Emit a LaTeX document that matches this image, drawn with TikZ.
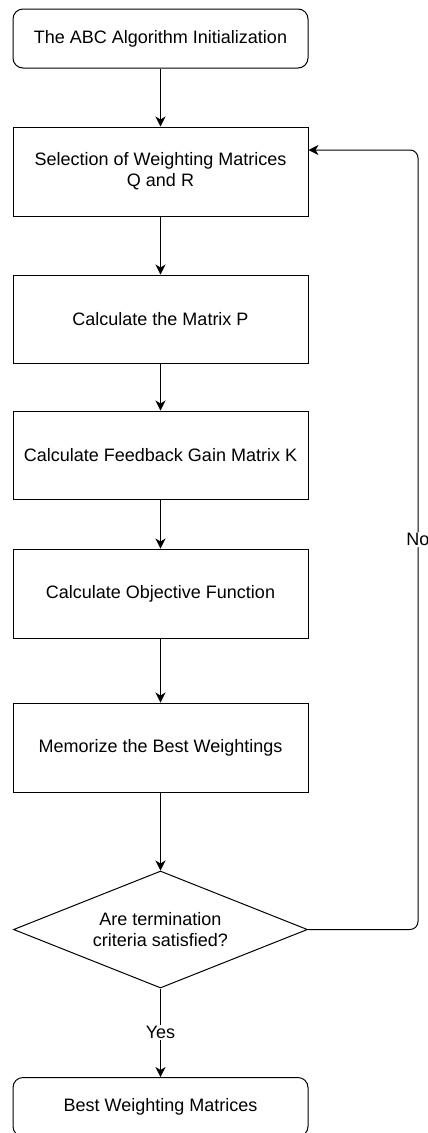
\documentclass[tikz,border=0pt]{standalone}
\usepackage{fontspec}
\setmainfont{Liberation Sans}
\usetikzlibrary{arrows.meta,shapes.geometric}

\tikzset{
    stepbox/.style={draw, line width=1pt, minimum width=295pt, minimum height=89pt, align=center, inner sep=2pt},
    startbox/.style={stepbox, rounded corners=10pt, minimum height=59pt},
    decision/.style={draw, line width=1pt, diamond, minimum width=294pt, minimum height=117pt, aspect=2.5, inner sep=0pt, align=center},
    flow/.style={line width=1pt, -{Stealth[length=10pt,width=10pt,inset=3pt]}},
    tag/.style={fill=white, inner sep=1pt}
}

\begin{document}
\begin{tikzpicture}[x=1pt, y=-1pt, font=\fontsize{18}{21}\selectfont]
    \useasboundingbox (0,0) rectangle (428,1133);

    \node[startbox] (init) at (160.5,38.5) {The ABC Algorithm Initialization};
    \node[stepbox] (sel) at (160.5,171.5) {Selection of Weighting Matrices\\Q and R};
    \node[stepbox, minimum height=88pt] (matp) at (160.5,319) {Calculate the Matrix P};
    \node[stepbox, minimum height=88pt] (gain) at (160.5,455) {Calculate Feedback Gain Matrix K};
    \node[stepbox] (obj) at (160.5,593.5) {Calculate Objective Function};
    \node[stepbox] (mem) at (160.5,747.5) {Memorize the Best Weightings};
    \node[decision] (dec) at (160.5,929.5) {Are termination\\criteria satisfied?};
    \node[startbox] (best) at (160.5,1107) {Best Weighting Matrices};

    \coordinate (fbtop) at (418,150);

    \draw[flow] (init) -- (sel);
    \draw[flow] (sel) -- (matp);
    \draw[flow] (matp) -- (gain);
    \draw[flow] (gain) -- (obj);
    \draw[flow] (obj) -- (mem);
    \draw[flow] (mem) -- (dec);
    \draw[flow] (dec) -- node[tag] {Yes} (best);
    \draw[flow, rounded corners=8pt] (dec.east) -- (dec.east -| fbtop)
        -- node[tag] {No} (fbtop) -- (sel.east |- fbtop);

\end{tikzpicture}
\end{document}
